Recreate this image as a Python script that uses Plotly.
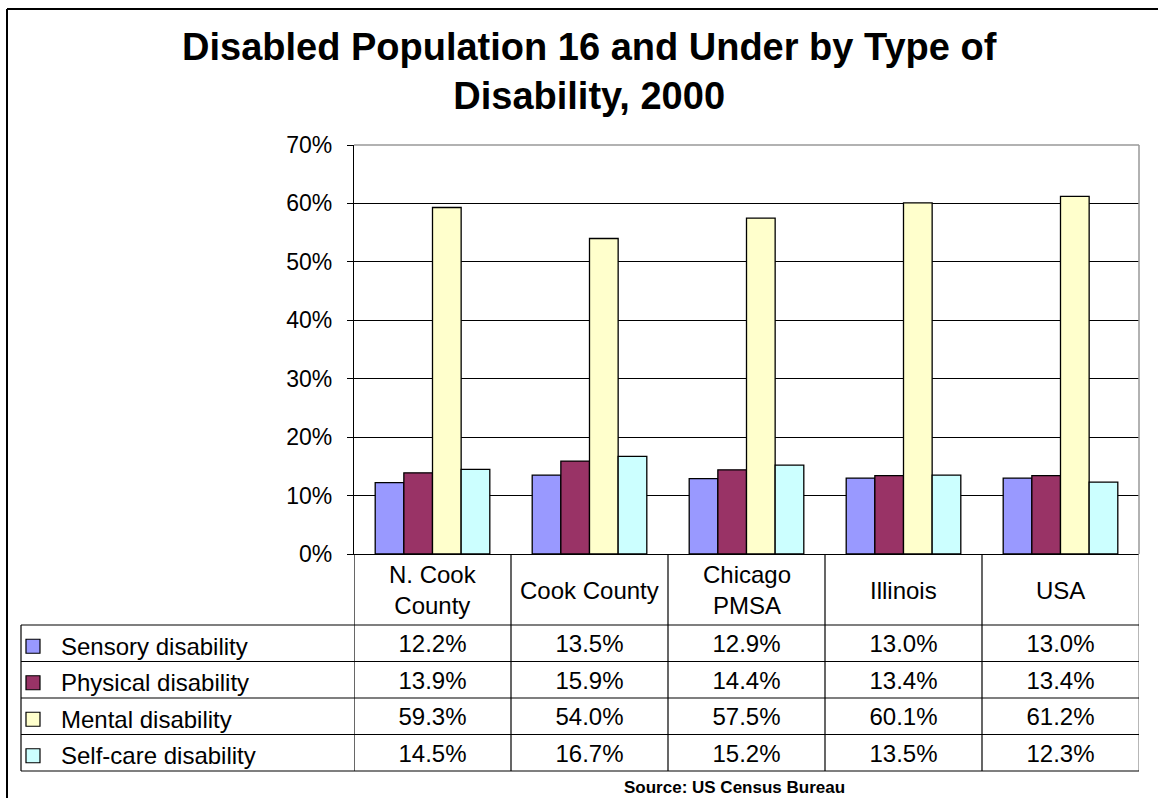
import plotly.graph_objects as go

# ---- data -------------------------------------------------------------
regions = ["N. Cook County", "Cook County", "Chicago PMSA", "Illinois", "USA"]
region_labels = ["N. Cook<br>County", "Cook County", "Chicago<br>PMSA", "Illinois", "USA"]
series_names = ["Sensory disability", "Physical disability",
                "Mental disability", "Self-care disability"]
sensory = [0.122, 0.135, 0.129, 0.130, 0.130]
physical = [0.139, 0.159, 0.144, 0.134, 0.134]
mental = [0.593, 0.540, 0.575, 0.601, 0.612]
selfcare = [0.145, 0.167, 0.152, 0.135, 0.123]
series_values = [sensory, physical, mental, selfcare]
series_colors = ["#9999FF", "#993366", "#FFFFCC", "#CCFFFF"]

title_text = "Disabled Population 16 and Under by Type of<br>Disability, 2000"
source_text = "Source: US Census Bureau"

# ---- page geometry (pixels -> paper fractions) ------------------------
W, H = 1158, 798
FONT = "Liberation Sans, Arial, sans-serif"


def px(x):
    return x / W


def py(y):
    return 1 - y / H


plot_left, plot_right = 354, 1139
plot_top, plot_bottom = 145, 554
table_left, table_top, table_bottom = 21, 625, 771
frame_left, frame_top = 7, 9
text_drop = 3  # table text sits slightly below the row centres

fig = go.Figure()

# clustered bars
for name, vals, color in zip(series_names, series_values, series_colors):
    fig.add_trace(go.Bar(
        x=regions, y=vals, name=name,
        marker=dict(color=color, line=dict(color="black", width=1.3)),
        xaxis="x", yaxis="y", showlegend=False, hoverinfo="x+y+name",
    ))

# data table values, one row per series
for name, vals in zip(series_names, series_values):
    fig.add_trace(go.Scatter(
        x=regions, y=[name] * len(regions), mode="text",
        text=[f"{v * 100:.1f}%" for v in vals],
        textfont=dict(family=FONT, size=24, color="black"),
        xaxis="x", yaxis="y2", showlegend=False, hoverinfo="skip",
        cliponaxis=False,
    ))

# legend keys in the table's label column
fig.add_trace(go.Scatter(
    x=[0.036] * len(series_names), y=series_names, mode="markers",
    marker=dict(symbol="square", size=14, color=series_colors,
                line=dict(color="black", width=1.2)),
    xaxis="x2", yaxis="y2", showlegend=False, hoverinfo="skip",
    cliponaxis=False,
))

shapes = []
# outer frame: top and left edges (the rest lies outside the page)
shapes.append(dict(type="line", xref="paper", yref="paper",
                   x0=px(frame_left), x1=1, y0=py(frame_top), y1=py(frame_top),
                   line=dict(color="black", width=2)))
shapes.append(dict(type="line", xref="paper", yref="paper",
                   x0=px(frame_left), x1=px(frame_left), y0=py(frame_top), y1=0,
                   line=dict(color="black", width=2)))
# plot area top / right border
shapes.append(dict(type="line", xref="x domain", yref="y domain",
                   x0=0, x1=1, y0=1, y1=1, line=dict(color="#999999", width=1.5)))
shapes.append(dict(type="line", xref="x domain", yref="y domain",
                   x0=1, x1=1, y0=0, y1=1, line=dict(color="#999999", width=1.5)))
# table column separators
n = len(regions)
for i in range(n + 1):
    shapes.append(dict(type="line", xref="x", yref="paper",
                       x0=i - 0.5, x1=i - 0.5, y0=py(plot_bottom), y1=py(table_bottom),
                       line=dict(color="#888888" if i == n else "black", width=1.2)))
# table row separators
rows = len(series_names)
row_h = (table_bottom - table_top) / rows
for j in range(rows + 1):
    yy = py(table_top + j * row_h)
    shapes.append(dict(type="line", xref="paper", yref="paper",
                       x0=px(table_left), x1=px(plot_right), y0=yy, y1=yy,
                       line=dict(color="black", width=1.2)))
# table left edge
shapes.append(dict(type="line", xref="paper", yref="paper",
                   x0=px(table_left), x1=px(table_left),
                   y0=py(table_top), y1=py(table_bottom),
                   line=dict(color="black", width=1.2)))

annotations = []
annotations.append(dict(text=f"<b>{title_text}</b>", xref="paper", yref="paper",
                        x=px(589), y=py(71), xanchor="center", yanchor="middle",
                        showarrow=False, font=dict(family=FONT, size=38, color="black")))
for reg, lab in zip(regions, region_labels):
    annotations.append(dict(text=lab, xref="x", yref="paper", x=reg, y=py(590),
                            xanchor="center", yanchor="middle", showarrow=False,
                            font=dict(family=FONT, size=24, color="black")))
for name in series_names:
    annotations.append(dict(text=name, xref="paper", yref="y2", x=px(59), y=name,
                            xanchor="left", yanchor="middle", showarrow=False,
                            font=dict(family=FONT, size=24, color="black")))
annotations.append(dict(text=f"<b>{source_text}</b>", xref="paper", yref="paper",
                        x=px(734), y=py(787), xanchor="center", yanchor="middle",
                        showarrow=False, font=dict(family=FONT, size=17, color="black")))

fig.update_layout(
    template="none",
    width=W, height=H,
    autosize=False,
    margin=dict(l=0, r=0, t=0, b=0, pad=0, autoexpand=False),
    paper_bgcolor="white", plot_bgcolor="white",
    barmode="group", bargap=0.27, bargroupgap=0,
    font=dict(family=FONT, color="black"),
    showlegend=False,
    xaxis=dict(domain=[px(plot_left), px(plot_right)], anchor="y",
               categoryorder="array", categoryarray=regions,
               range=[-0.5, n - 0.5], showticklabels=False, ticks="",
               showline=True, linecolor="black", linewidth=1.2,
               showgrid=False, zeroline=False, fixedrange=True, automargin=False),
    yaxis=dict(domain=[py(plot_bottom), py(plot_top)], anchor="x",
               range=[0, 0.7], dtick=0.1, tickformat=".0%",
               ticks="outside", ticklen=6, tickcolor="black", tickwidth=1.2,
               showline=True, linecolor="black", linewidth=1.2,
               showgrid=True, gridcolor="black", gridwidth=1,
               zeroline=False, ticklabelstandoff=10, automargin=False,
               tickfont=dict(family=FONT, size=23, color="black"), fixedrange=True),
    xaxis2=dict(domain=[px(table_left), px(plot_left)], anchor="y2",
                range=[0, 1], visible=False, fixedrange=True, automargin=False),
    yaxis2=dict(domain=[py(table_bottom + text_drop), py(table_top + text_drop)],
                anchor="x2", type="category", categoryorder="array",
                categoryarray=series_names,
                range=[rows - 0.5, -0.5], visible=False,
                fixedrange=True, automargin=False),
    shapes=shapes,
    annotations=annotations,
)

fig.write_html("out.html")
